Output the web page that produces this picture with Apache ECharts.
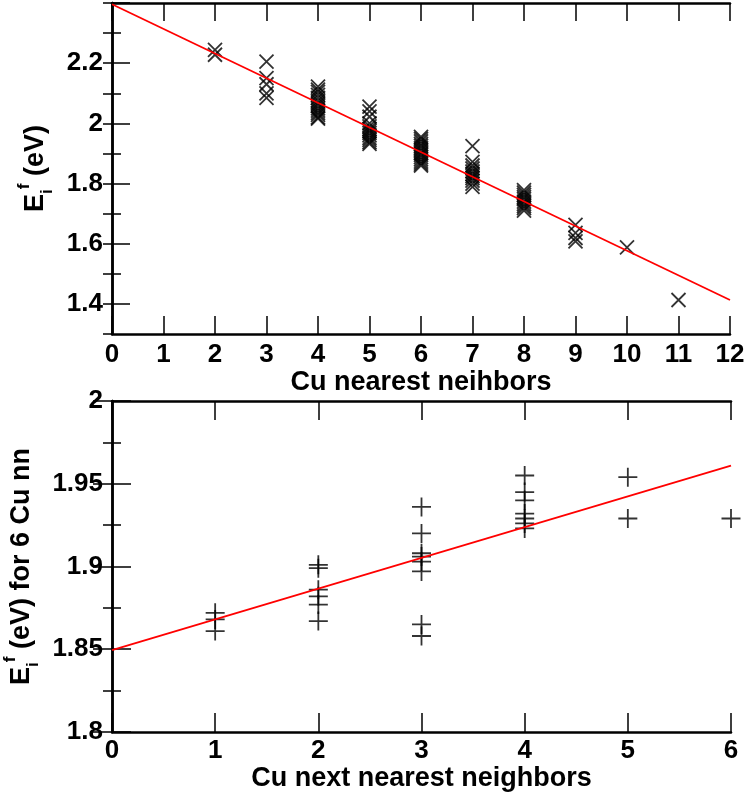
<!DOCTYPE html>
<html>
<head>
<meta charset="utf-8">
<script src="https://cdn.jsdelivr.net/npm/echarts@6/dist/echarts.min.js"></script>
<style>
  html, body { margin: 0; padding: 0; background: #fff; }
  #chart { width: 747px; height: 800px; }
</style>
</head>
<body>
<div id="chart"></div>
<script>
// top panel: formation energy vs number of Cu nearest neighbours
const nnCount = [
  2, 2,
  3, 3, 3, 3, 3,
  4, 4, 4, 4, 4, 4, 4, 4, 4, 4, 4, 4, 4, 4,
  5, 5, 5, 5, 5, 5, 5, 5, 5, 5, 5, 5, 5,
  6, 6, 6, 6, 6, 6, 6, 6, 6, 6, 6, 6, 6, 6,
  7, 7, 7, 7, 7, 7, 7, 7, 7, 7, 7,
  8, 8, 8, 8, 8, 8, 8, 8, 8, 8,
  9, 9, 9, 9,
  10,
  11
];
const nnEnergy = [
  2.244, 2.228,
  2.205, 2.150, 2.130, 2.100, 2.085,
  2.122, 2.112, 2.105, 2.095, 2.085, 2.075, 2.066, 2.058, 2.050, 2.042, 2.035, 2.028, 2.020, 2.016,
  2.056, 2.040, 2.022, 2.000, 1.990, 1.982, 1.975, 1.968, 1.960, 1.952, 1.945, 1.938, 1.932,
  1.955, 1.948, 1.940, 1.932, 1.925, 1.918, 1.910, 1.902, 1.895, 1.888, 1.880, 1.873, 1.866, 1.860,
  1.924, 1.872, 1.860, 1.850, 1.840, 1.832, 1.825, 1.818, 1.810, 1.800, 1.789,
  1.778, 1.770, 1.762, 1.755, 1.748, 1.740, 1.732, 1.725, 1.718, 1.710,
  1.663, 1.636, 1.619, 1.608,
  1.588,
  1.413
];
const nnFitX = [0, 12];
const nnFitY = [2.396, 1.413];

// bottom panel: 6 Cu nn, energy vs number of Cu next nearest neighbours
const nnnCount = [
  1, 1, 1,
  2, 2, 2, 2, 2, 2,
  3, 3, 3, 3, 3, 3, 3, 3,
  4, 4, 4, 4, 4, 4, 4,
  5, 5,
  6
];
const nnnEnergy = [
  1.872, 1.868, 1.861,
  1.901, 1.899, 1.886, 1.882, 1.877, 1.867,
  1.936, 1.920, 1.908, 1.906, 1.903, 1.897, 1.865, 1.858,
  1.955, 1.945, 1.940, 1.932, 1.929, 1.926, 1.923,
  1.954, 1.929,
  1.929
];
const nnnFitX = [0, 6];
const nnnFitY = [1.8495, 1.961];

const FONT = 'Liberation Sans';
const crossPath = 'path://M0,0L10,10M10,0L0,10';
const plusPath = 'path://M5,0L5,10M0,5L10,5';

function pairs(xs, ys) {
  return xs.map((x, i) => [x, ys[i]]);
}

function fmt(v) {
  return String(parseFloat(v.toFixed(2)));
}

const lineStyle = { color: '#000', width: 2.5 };
const tickStyle = { color: '#000', width: 1.5 };
const labelStyle = { fontFamily: FONT, fontWeight: 'bold', fontSize: 26, color: '#000' };
const xNameStyle = { fontFamily: FONT, fontWeight: 'bold', fontSize: 27, color: '#000' };
const yNameStyle = {
  fontFamily: FONT, fontWeight: 'bold', fontSize: 27, color: '#000',
  rich: {
    b: { fontFamily: FONT, fontWeight: 'bold', fontSize: 27, color: '#000' },
    sub: { fontFamily: FONT, fontWeight: 'bold', fontSize: 17, color: '#000', verticalAlign: 'bottom', lineHeight: 40 },
    sup: { fontFamily: FONT, fontWeight: 'bold', fontSize: 17, color: '#000', verticalAlign: 'top', lineHeight: 40 }
  }
};

const chart = echarts.init(document.getElementById('chart'));

const option = {
  animation: false,
  backgroundColor: '#fff',
  grid: [
    { left: 112, right: 17, top: 3, bottom: 466, outerBoundsMode: 'none' },
    { left: 112, right: 17, top: 3, bottom: 496, outerBoundsMode: 'none' },
    { left: 112, right: 16, top: 401, bottom: 68, outerBoundsMode: 'none' }
  ],
  xAxis: [
    {
      gridIndex: 0, type: 'value', min: 0, max: 12, interval: 1,
      name: 'Cu nearest neihbors', nameLocation: 'middle', nameGap: 34,
      nameTextStyle: xNameStyle,
      axisLine: { lineStyle: lineStyle },
      axisTick: { inside: true, length: 18, lineStyle: tickStyle },
      axisLabel: Object.assign({ margin: 8 }, labelStyle),
      splitLine: { show: false }
    },
    {
      gridIndex: 0, type: 'value', min: 0, max: 12, interval: 1, position: 'top',
      axisLine: { lineStyle: lineStyle },
      axisTick: { inside: true, length: 18, lineStyle: tickStyle },
      axisLabel: { show: false },
      splitLine: { show: false }
    },
    {
      gridIndex: 1, type: 'value', min: 0, max: 12, show: false
    },
    {
      gridIndex: 2, type: 'value', min: 0, max: 6, interval: 1,
      name: 'Cu next nearest neighbors', nameLocation: 'middle', nameGap: 26,
      nameTextStyle: xNameStyle,
      axisLine: { lineStyle: lineStyle },
      axisTick: { inside: true, length: 19, lineStyle: tickStyle },
      axisLabel: Object.assign({ margin: 6 }, labelStyle),
      splitLine: { show: false }
    },
    {
      gridIndex: 2, type: 'value', min: 0, max: 6, interval: 1, position: 'top',
      axisLine: { lineStyle: lineStyle },
      axisTick: { inside: true, length: 19, lineStyle: tickStyle },
      axisLabel: { show: false },
      splitLine: { show: false }
    }
  ],
  yAxis: [
    {
      // data axis of the top panel
      gridIndex: 0, type: 'value', min: 1.3, max: 2.4, interval: 0.1,
      name: '{b|E}{sub|i}{sup|f}{b| (eV)}', nameLocation: 'middle', nameGap: 56,
      nameTextStyle: yNameStyle,
      axisLine: { lineStyle: lineStyle },
      axisTick: { show: false },
      axisLabel: { show: false },
      splitLine: { show: false }
    },
    {
      gridIndex: 0, type: 'value', min: 1.3, max: 2.4, interval: 0.1, position: 'right',
      axisLine: { lineStyle: lineStyle },
      axisTick: { inside: true, length: 9, lineStyle: tickStyle },
      axisLabel: { show: false },
      splitLine: { show: false }
    },
    {
      // tick/label holder for the top panel, shifted up by 0.1 so ticks fall on 1.4, 1.6 ...
      gridIndex: 1, type: 'value', min: 1.4, max: 2.4, interval: 0.2,
      axisLine: { show: false },
      axisTick: { inside: true, length: 18, lineStyle: tickStyle },
      minorTick: { show: true, splitNumber: 2, length: 9, lineStyle: tickStyle },
      axisLabel: Object.assign({ margin: 9, formatter: (v) => (v > 2.35 ? '' : fmt(v)) }, labelStyle),
      splitLine: { show: false }
    },
    {
      gridIndex: 2, type: 'value', min: 1.8, max: 2.0, interval: 0.05,
      name: '{b|E}{sub|i}{sup|f}{b| (eV) for 6 Cu nn}', nameLocation: 'middle', nameGap: 57,
      nameTextStyle: yNameStyle,
      axisLine: { lineStyle: lineStyle },
      axisTick: { inside: true, length: 19, lineStyle: tickStyle },
      minorTick: { show: true, splitNumber: 2, length: 9, lineStyle: tickStyle },
      axisLabel: Object.assign({ margin: 9, formatter: fmt }, labelStyle),
      splitLine: { show: false }
    },
    {
      gridIndex: 2, type: 'value', min: 1.8, max: 2.0, interval: 0.05, position: 'right',
      axisLine: { lineStyle: lineStyle },
      axisTick: { inside: true, length: 19, lineStyle: tickStyle },
      minorTick: { show: true, splitNumber: 2, length: 9, lineStyle: tickStyle },
      axisLabel: { show: false },
      splitLine: { show: false }
    }
  ],
  series: [
    {
      type: 'scatter', xAxisIndex: 0, yAxisIndex: 0,
      data: pairs(nnCount, nnEnergy),
      symbol: crossPath, symbolSize: 14, clip: false,
      itemStyle: { color: 'transparent', borderColor: '#000', borderWidth: 1.8 }
    },
    {
      type: 'line', xAxisIndex: 0, yAxisIndex: 0,
      data: pairs(nnFitX, nnFitY),
      showSymbol: false, symbol: 'none',
      lineStyle: { color: '#ff0000', width: 1.8 }
    },
    {
      type: 'scatter', xAxisIndex: 3, yAxisIndex: 3,
      data: pairs(nnnCount, nnnEnergy),
      symbol: plusPath, symbolSize: 19, clip: false,
      itemStyle: { color: 'transparent', borderColor: '#000', borderWidth: 1.8 }
    },
    {
      type: 'line', xAxisIndex: 3, yAxisIndex: 3,
      data: pairs(nnnFitX, nnnFitY),
      showSymbol: false, symbol: 'none',
      lineStyle: { color: '#ff0000', width: 1.8 }
    }
  ]
};

chart.setOption(option);
</script>
</body>
</html>
